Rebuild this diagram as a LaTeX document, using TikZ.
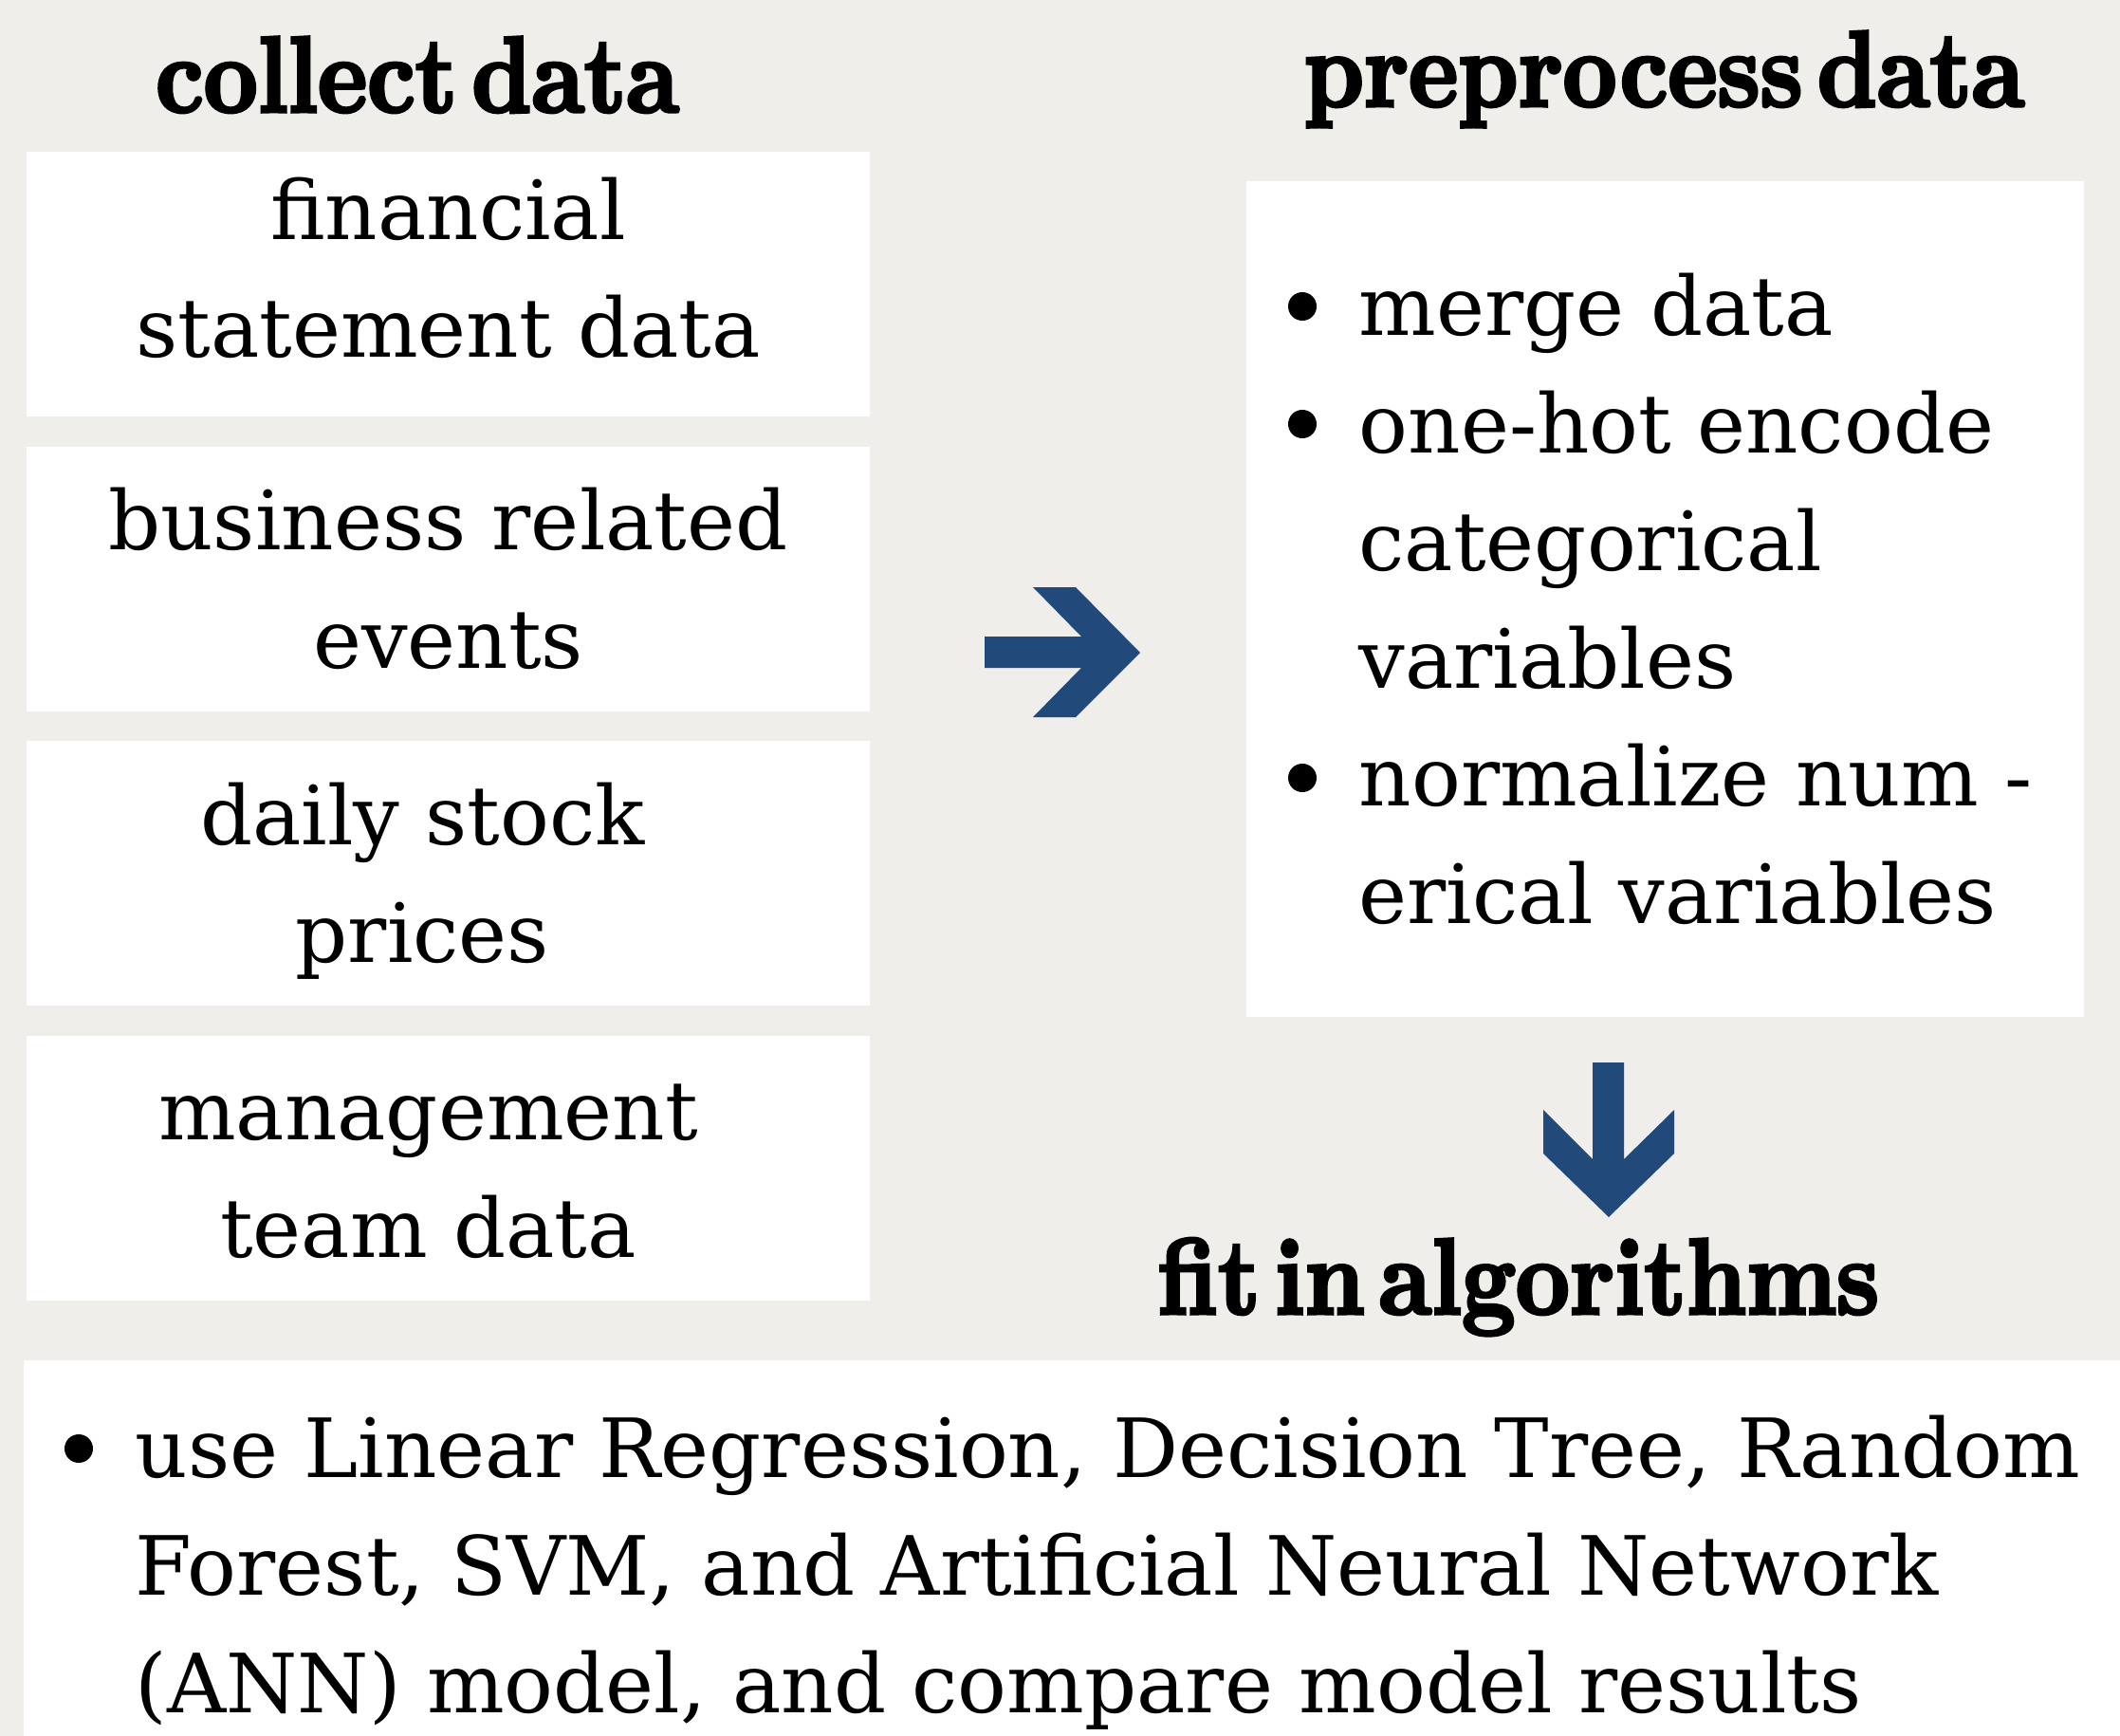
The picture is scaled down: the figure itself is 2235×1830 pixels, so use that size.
\documentclass[tikz,border=0pt]{standalone}
\usepackage{fontspec}
\setmainfont{DejaVu Serif}
\newfontfamily\headfont{lmroman10-bold.otf}[FakeStretch=0.87,FakeBold=3,WordSpace=0.4]
\usepackage{tikz}
\usetikzlibrary{positioning}
\definecolor{paper}{RGB}{239,238,234}
\definecolor{navy}{RGB}{33,74,123}

\begin{document}
\begin{tikzpicture}[x=0.01cm,y=-0.01cm,
  card/.style={fill=white, minimum width=8.89cm, minimum height=2.79cm, inner sep=0},
  body/.style={font=\fontsize{24.5}{35.3}\selectfont, inner sep=0, anchor=base},
  head/.style={font=\headfont\fontsize{32.4}{38}\selectfont, inner sep=0, anchor=base},
  dot/.style={circle, fill=black, minimum size=0.3cm, inner sep=0}]
\useasboundingbox (0,0) rectangle (2235,1830);
\fill[paper] (0,0) rectangle (2235,1830);

% collect data
\node[head] (collect) at (440,118) {collect data};
\node[card] (fin) at (472.5,299.5) {};
\node[card, below=0.3cm of fin] (biz) {};
\node[card, below=0.3cm of biz] (stock) {};
\node[card, below=0.3cm of stock] (team) {};
\node[body] (fintxt) at ([yshift=-0.93cm] fin.north) {\begin{tabular}[t]{@{}c@{}}financial\\statement data\end{tabular}};
\node[body] (biztxt) at ([yshift=-1.10cm] biz.north) {\begin{tabular}[t]{@{}c@{}}business related\\events\end{tabular}};
\node[body] (stocktxt) at ([xshift=-0.27cm,yshift=-1.10cm] stock.north) {\begin{tabular}[t]{@{}c@{}}daily stock\\prices\end{tabular}};
\node[body] (teamtxt) at ([xshift=-0.21cm,yshift=-1.10cm] team.north) {\begin{tabular}[t]{@{}c@{}}management\\team data\end{tabular}};

% preprocess data
\node[head] (prep) at (1754.5,112) {preprocess data};
\node[card, minimum width=8.83cm, minimum height=8.81cm] (prepbox) at (1755.5,631.5) {};
\node[dot] (d1) at (1373,323) {};
\node[dot] (d2) at (1373,447) {};
\node[dot] (d3) at (1373,820) {};
\node[body, anchor=base west] (merge) at (1432,353) {merge data};
\node[body, anchor=base west] (onehot) at (1432,477.2) {\begin{tabular}[t]{@{}l@{}}one-hot encode\\categorical\\variables\end{tabular}};
\node[body, anchor=base west] (norm) at (1432,849.8) {\begin{tabular}[t]{@{}l@{}}normalize num -\\erical variables\end{tabular}};

% arrows
\fill[navy] (1038,671) -- (1140,671) -- (1089,619) -- (1134,619) -- (1202,688)
  -- (1134,756) -- (1089,756) -- (1140,704) -- (1038,704) -- cycle;
\fill[navy] (1679,1120) -- (1712,1120) -- (1712,1222) -- (1765,1170) -- (1765,1216)
  -- (1696,1283) -- (1627,1216) -- (1627,1170) -- (1679,1222) -- cycle;

% fit in algorithms
\node[head] (fit) at (1601,1385) {fit in algorithms};
\node[card, minimum width=22.21cm, minimum height=3.97cm, anchor=north west] (fitbox) at (24,1433) {};
\node[dot] (d4) at (83,1527) {};
\node[body, anchor=base west] (models) at (142,1557) {\begin{tabular}[t]{@{}l@{}}use Linear Regression, Decision Tree, Random\\Forest, SVM, and Artificial Neural Network\\(ANN) model, and compare model results\end{tabular}};
\end{tikzpicture}
\end{document}
